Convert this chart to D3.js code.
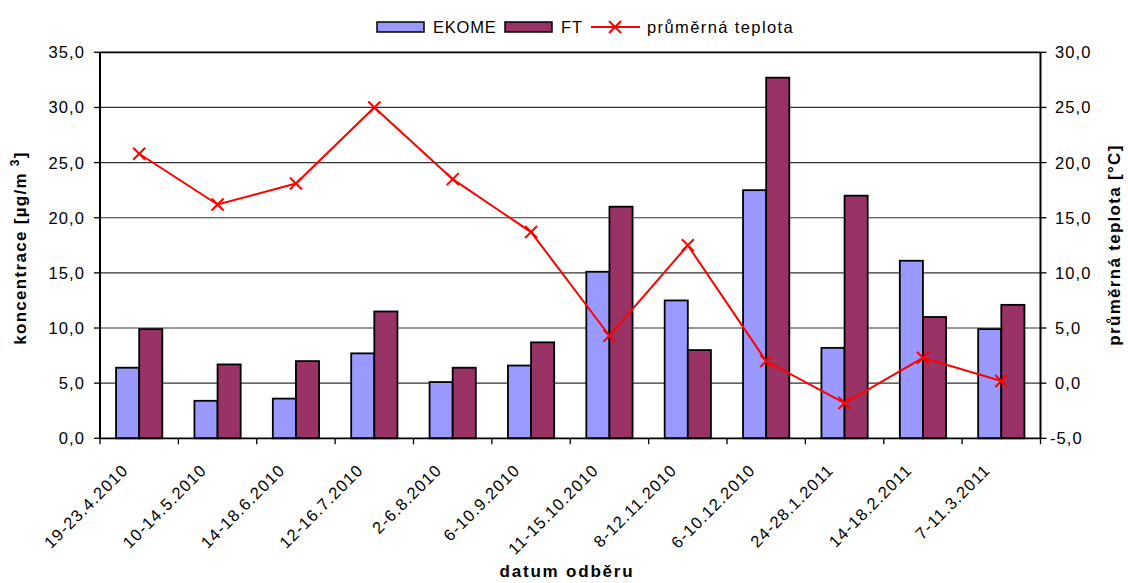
<!DOCTYPE html>
<html><head><meta charset="utf-8">
<script src="https://cdn.jsdelivr.net/npm/d3@7"></script>
<style>
html,body{margin:0;padding:0;background:#fff;}
svg{display:block;font-family:Arial,"Liberation Sans",sans-serif;}
</style></head>
<body>
<svg id="chart" width="1128" height="583"></svg>
<script>
const categories = ["19-23.4.2010","10-14.5.2010","14-18.6.2010","12-16.7.2010","2-6.8.2010","6-10.9.2010","11-15.10.2010","8-12.11.2010","6-10.12.2010","24-28.1.2011","14-18.2.2011","7-11.3.2011"];
const ekome = [6.4, 3.4, 3.6, 7.7, 5.1, 6.6, 15.1, 12.5, 22.5, 8.2, 16.1, 9.9];
const ft = [9.9, 6.7, 7.0, 11.5, 6.4, 8.7, 21.0, 8.0, 32.7, 22.0, 11.0, 12.1];
const teplota = [20.8, 16.2, 18.1, 25.0, 18.5, 13.7, 4.3, 12.5, 2.0, -1.8, 2.3, 0.2];
const leftTicks = [0, 5, 10, 15, 20, 25, 30, 35];
const rightTicks = [-5, 0, 5, 10, 15, 20, 25, 30];
const seriesNames = ["EKOME", "FT", "průměrná teplota"];
const colors = {EKOME: "#9999FF", FT: "#993366", line: "#FF0000"};

const svg = d3.select("#chart");
const L = 100, R = 1040.5, T = 52.3, B = 438.3;
const fmt = v => v.toFixed(1).replace(".", ",");

const x = d3.scaleBand().domain(categories).range([L, R]).paddingInner(0.41).paddingOuter(0.205);
const xb = d3.scaleBand().domain(["EKOME","FT"]).range([0, x.bandwidth()]);
const yL = d3.scaleLinear().domain([0, 35]).range([B, T]);
const yR = d3.scaleLinear().domain([-5, 30]).range([B, T]);
const step = x.step();

// gridlines
svg.append("g").selectAll("line").data(leftTicks.filter(d => d > 0)).join("line")
  .attr("x1", L).attr("x2", R).attr("y1", d => yL(d)).attr("y2", d => yL(d))
  .attr("stroke", d => d === 35 ? "#000" : "#333").attr("stroke-width", d => d === 35 ? 1.8 : 1.2);

// bars
const groups = svg.append("g").selectAll("g").data(categories).join("g")
  .attr("transform", d => `translate(${x(d)},0)`);
groups.append("rect").attr("x", xb("EKOME")).attr("width", xb.bandwidth())
  .attr("y", (d, i) => yL(ekome[i])).attr("height", (d, i) => B - yL(ekome[i]))
  .attr("fill", colors.EKOME).attr("stroke", "#000").attr("stroke-width", 1.8);
groups.append("rect").attr("x", xb("FT")).attr("width", xb.bandwidth())
  .attr("y", (d, i) => yL(ft[i])).attr("height", (d, i) => B - yL(ft[i]))
  .attr("fill", colors.FT).attr("stroke", "#000").attr("stroke-width", 1.8);

// axes
const axisG = svg.append("g");
axisG.append("line").attr("x1", L).attr("x2", L).attr("y1", T).attr("y2", B).attr("stroke", "#000").attr("stroke-width", 2);
axisG.append("line").attr("x1", R).attr("x2", R).attr("y1", T).attr("y2", B).attr("stroke", "#000").attr("stroke-width", 2);
axisG.append("line").attr("x1", L).attr("x2", R).attr("y1", B).attr("y2", B).attr("stroke", "#000").attr("stroke-width", 1.8);

// left ticks
axisG.append("g").selectAll("line").data(leftTicks).join("line")
  .attr("x1", L - 6).attr("x2", L).attr("y1", d => yL(d)).attr("y2", d => yL(d)).attr("stroke", "#000").attr("stroke-width", 1.3);
axisG.append("g").selectAll("text").data(leftTicks).join("text")
  .attr("x", 85).attr("y", d => yL(d)).attr("dy", "0.36em").attr("text-anchor", "end")
  .attr("font-size", 16.5).attr("letter-spacing", 1.1).attr("fill", "#000").text(fmt);

// right ticks
axisG.append("g").selectAll("line").data(rightTicks).join("line")
  .attr("x1", R).attr("x2", R + 6).attr("y1", d => yR(d)).attr("y2", d => yR(d)).attr("stroke", "#000").attr("stroke-width", 1.3);
axisG.append("g").selectAll("text").data(rightTicks).join("text")
  .attr("x", d => d < 0 ? 1050 : 1055).attr("y", d => yR(d)).attr("dy", "0.36em").attr("text-anchor", "start")
  .attr("font-size", 16.5).attr("letter-spacing", 1.1).attr("fill", "#000").text(fmt);

// bottom ticks at category boundaries
const bounds = d3.range(categories.length + 1).map(i => L + i * step);
axisG.append("g").selectAll("line").data(bounds).join("line")
  .attr("x1", d => d).attr("x2", d => d).attr("y1", B).attr("y2", B + 6).attr("stroke", "#000").attr("stroke-width", 1.3);

// x labels
axisG.append("g").selectAll("text").data(categories).join("text")
  .attr("transform", d => `translate(${x(d) + x.bandwidth() / 2 - 10},${B + 33}) rotate(-45)`)
  .attr("text-anchor", "end").attr("font-size", 16.5).attr("letter-spacing", 1.1).attr("fill", "#000").text(d => d);

// line series
const lineGen = d3.line().x((d, i) => x(categories[i]) + x.bandwidth() / 2).y(d => yR(d));
svg.append("path").datum(teplota).attr("d", lineGen).attr("fill", "none").attr("stroke", colors.line).attr("stroke-width", 2);
const mk = 6;
svg.append("g").selectAll("path").data(teplota).join("path")
  .attr("d", (d, i) => {
    const cx = x(categories[i]) + x.bandwidth() / 2, cy = yR(d);
    return `M${cx - mk},${cy - mk}L${cx + mk},${cy + mk}M${cx - mk},${cy + mk}L${cx + mk},${cy - mk}`;
  })
  .attr("stroke", colors.line).attr("stroke-width", 2).attr("fill", "none");

// axis titles
const lt = svg.append("text").attr("transform", "translate(26,248) rotate(-90)")
  .attr("text-anchor", "middle").attr("font-size", 17).attr("font-weight", "bold").attr("letter-spacing", 1.3).attr("fill", "#000");
lt.append("tspan").text("koncentrace [µg/m ");
lt.append("tspan").attr("font-size", 12).attr("dy", -7).text("3");
lt.append("tspan").attr("dy", 7).text("]");

svg.append("text").attr("transform", "translate(1120,245) rotate(-90)")
  .attr("text-anchor", "middle").attr("font-size", 17).attr("font-weight", "bold").attr("letter-spacing", 1.3).attr("fill", "#000")
  .text("průměrná teplota [°C]");

svg.append("text").attr("x", 567).attr("y", 577).attr("text-anchor", "middle")
  .attr("font-size", 17).attr("font-weight", "bold").attr("letter-spacing", 1.8).attr("fill", "#000").text("datum odběru");

// legend
const lg = svg.append("g");
lg.append("rect").attr("x", 377).attr("y", 22).attr("width", 47).attr("height", 10).attr("fill", colors.EKOME).attr("stroke", "#000").attr("stroke-width", 1.5);
lg.append("text").attr("x", 433).attr("y", 33).attr("font-size", 16.5).attr("letter-spacing", 0.8).text(seriesNames[0]);
lg.append("rect").attr("x", 505).attr("y", 22).attr("width", 47).attr("height", 10).attr("fill", colors.FT).attr("stroke", "#000").attr("stroke-width", 1.5);
lg.append("text").attr("x", 561).attr("y", 33).attr("font-size", 16.5).attr("letter-spacing", 0.8).text(seriesNames[1]);
lg.append("line").attr("x1", 591).attr("x2", 640).attr("y1", 27).attr("y2", 27).attr("stroke", colors.line).attr("stroke-width", 2);
lg.append("path").attr("d", `M${615 - mk},${27 - mk}L${615 + mk},${27 + mk}M${615 - mk},${27 + mk}L${615 + mk},${27 - mk}`).attr("stroke", colors.line).attr("stroke-width", 2);
lg.append("text").attr("x", 647).attr("y", 33).attr("font-size", 16.5).attr("letter-spacing", 1.4).text(seriesNames[2]);
</script>
</body></html>
